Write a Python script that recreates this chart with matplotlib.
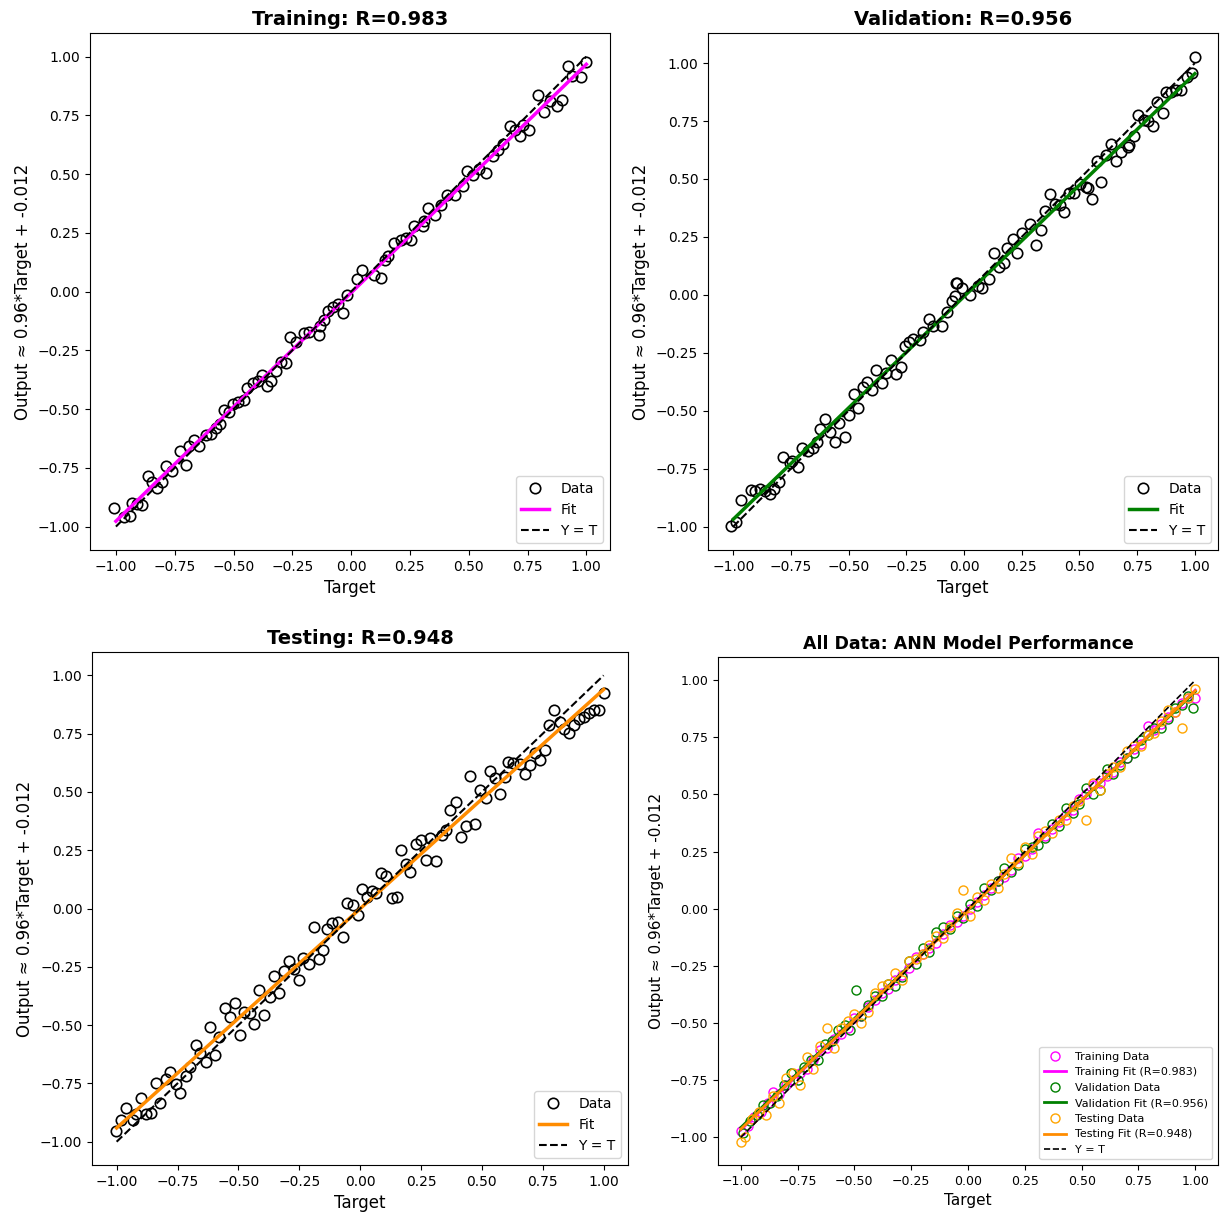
import numpy as np
import matplotlib
matplotlib.use("Agg")
import matplotlib.pyplot as plt

# ---- values (target, output) ----
train_t = [-1.01, -0.965, -0.94, -0.93, -0.91, -0.89, -0.865, -0.845, -0.825, -0.805,
           -0.787, -0.76, -0.726, -0.70, -0.688, -0.667, -0.645, -0.617, -0.596, -0.574,
           -0.556, -0.542, -0.518, -0.503, -0.482, -0.457, -0.443, -0.418, -0.397, -0.38,
           -0.357, -0.34, -0.319, -0.30, -0.277, -0.258, -0.234, -0.199, -0.177, -0.135,
           -0.131, -0.114, -0.097, -0.078, -0.057, -0.035, -0.017,
           0.026, 0.045, 0.099, 0.128, 0.142, 0.156, 0.184, 0.21, 0.234, 0.255,
           0.267, 0.305, 0.312, 0.329, 0.355, 0.383, 0.409, 0.44, 0.475, 0.494,
           0.518, 0.542, 0.574, 0.603, 0.624, 0.645, 0.674, 0.695, 0.716, 0.73,
           0.755, 0.794, 0.82, 0.844, 0.877, 0.897, 0.922, 0.939, 0.976, 1.0]
train_o = [-0.92, -0.96, -0.955, -0.90, -0.905, -0.91, -0.786, -0.81, -0.835, -0.81,
           -0.743, -0.765, -0.68, -0.736, -0.658, -0.63, -0.658, -0.609, -0.604, -0.58,
           -0.562, -0.505, -0.513, -0.477, -0.471, -0.463, -0.41, -0.389, -0.382, -0.353,
           -0.40, -0.382, -0.339, -0.30, -0.303, -0.193, -0.216, -0.176, -0.173, -0.183,
           -0.145, -0.119, -0.084, -0.065, -0.051, -0.091, -0.013,
           0.054, 0.091, 0.072, 0.058, 0.136, 0.15, 0.207, 0.218, 0.228, 0.221,
           0.278, 0.278, 0.30, 0.356, 0.328, 0.37, 0.413, 0.409, 0.448, 0.512,
           0.498, 0.522, 0.505, 0.576, 0.601, 0.626, 0.706, 0.686, 0.661, 0.711,
           0.689, 0.838, 0.763, 0.81, 0.791, 0.817, 0.962, 0.916, 0.914, 0.976]

val_t = [-1.009, -0.987, -0.965, -0.924, -0.904, -0.885, -0.863, -0.841, -0.822, -0.802,
         -0.783, -0.754, -0.747, -0.72, -0.703, -0.674, -0.656, -0.638,
         -0.623, -0.601, -0.579, -0.56, -0.54, -0.517, -0.499, -0.477, -0.459,
         -0.438, -0.419, -0.397, -0.38, -0.357, -0.336, -0.317, -0.296, -0.274,
         -0.255, -0.237, -0.22, -0.193, -0.179, -0.153, -0.135, -0.095, -0.074, -0.051,
         -0.034, -0.041, -0.031, -0.007, 0.025, 0.061, 0.076, 0.109,
         0.13, 0.153, 0.173, 0.185, 0.211, 0.228, 0.25, 0.287, 0.313, 0.333,
         0.352, 0.374, 0.396, 0.415, 0.435,
         0.454, 0.476, 0.502, 0.527, 0.537, 0.556, 0.593, 0.578,
         0.614, 0.636, 0.658, 0.68, 0.709, 0.716, 0.738, 0.755, 0.781, 0.796,
         0.818, 0.837, 0.861, 0.876, 0.895, 0.92, 0.942, 0.964, 0.988, 1.0]
val_o = [-0.997, -0.979, -0.885, -0.842, -0.846, -0.839, -0.846, -0.86, -0.836, -0.807,
         -0.698, -0.724, -0.717, -0.741, -0.66, -0.674, -0.66, -0.635,
         -0.578, -0.535, -0.592, -0.635, -0.552, -0.612, -0.52, -0.43, -0.487,
         -0.397, -0.377, -0.412, -0.326, -0.38, -0.337, -0.283, -0.34, -0.311,
         -0.219, -0.205, -0.191, -0.197, -0.162, -0.105, -0.136, -0.133, -0.076, -0.025,
         0.05, -0.007, 0.053, 0.029, 0.0, 0.039, 0.029, 0.068,
         0.182, 0.119, 0.139, 0.201, 0.239, 0.179, 0.268, 0.305, 0.215, 0.28,
         0.363, 0.434, 0.394, 0.387, 0.358,
         0.44, 0.44, 0.477, 0.466, 0.463, 0.412, 0.487, 0.578,
         0.602, 0.65, 0.578, 0.617, 0.636, 0.645, 0.684, 0.774, 0.755, 0.749,
         0.727, 0.831, 0.784, 0.874, 0.874, 0.882, 0.885, 0.939, 0.957, 1.028]

test_t = [-1.001, -0.981, -0.96, -0.933, -0.919, -0.899, -0.878, -0.857,
          -0.84, -0.821, -0.799, -0.78, -0.758, -0.738, -0.714, -0.7,
          -0.676, -0.656, -0.634, -0.615, -0.598, -0.58, -0.556, -0.536, -0.515, -0.495,
          -0.478, -0.454, -0.437, -0.416, -0.396, -0.372, -0.355, -0.333, -0.314, -0.292,
          -0.273, -0.251, -0.235, -0.21, -0.191, -0.169, -0.153, -0.136, -0.114, -0.091,
          -0.07, -0.054, -0.03, -0.009,
          0.009, 0.028, 0.05, 0.067, 0.087, 0.108, 0.132, 0.151, 0.169, 0.187,
          0.206, 0.228, 0.248, 0.269, 0.288, 0.313, 0.338, 0.354, 0.371, 0.392,
          0.416, 0.433, 0.452, 0.471, 0.491, 0.515, 0.535, 0.553, 0.573, 0.594,
          0.607, 0.628, 0.655, 0.676, 0.696, 0.717, 0.737, 0.758, 0.776, 0.795,
          0.819, 0.836, 0.858, 0.877, 0.899, 0.918, 0.94, 0.959, 0.981, 1.0]
test_o = [-0.952, -0.905, -0.857, -0.909, -0.883, -0.811, -0.88, -0.876,
          -0.747, -0.833, -0.733, -0.70, -0.751, -0.79, -0.718, -0.68,
          -0.585, -0.618, -0.656, -0.508, -0.628, -0.551, -0.427, -0.465, -0.403, -0.542,
          -0.442, -0.446, -0.493, -0.35, -0.456, -0.378, -0.288, -0.364, -0.269, -0.226,
          -0.259, -0.306, -0.212, -0.237, -0.077, -0.216, -0.178, -0.088, -0.063, -0.059,
          -0.123, 0.023, 0.017, -0.026,
          0.084, 0.048, 0.074, 0.065, 0.151, 0.138, 0.046, 0.048, 0.252, 0.192,
          0.156, 0.275, 0.292, 0.209, 0.304, 0.203, 0.314, 0.338, 0.421, 0.457,
          0.306, 0.352, 0.568, 0.364, 0.51, 0.476, 0.59, 0.562, 0.49, 0.564,
          0.629, 0.625, 0.622, 0.576, 0.615, 0.668, 0.636, 0.682, 0.787, 0.851,
          0.801, 0.768, 0.753, 0.787, 0.815, 0.82, 0.837, 0.851, 0.851, 0.926]

# the "All Data" panel shows its own, tighter cloud of points
all_train_t = [-1.00, -0.97, -0.94, -0.91, -0.88, -0.86, -0.83, -0.80, -0.77, -0.74,
               -0.71, -0.68, -0.65, -0.62, -0.59, -0.56, -0.53, -0.50, -0.47, -0.44,
               -0.41, -0.38, -0.35, -0.32, -0.29, -0.26, -0.23, -0.20, -0.17, -0.14,
               -0.11, -0.08, -0.05, -0.02, 0.01, 0.04, 0.07, 0.10, 0.13, 0.16,
               0.19, 0.22, 0.25, 0.28, 0.31, 0.34, 0.37, 0.40, 0.43, 0.46,
               0.49, 0.52, 0.55, 0.58, 0.61, 0.64, 0.67, 0.70, 0.73, 0.76,
               0.79, 0.82, 0.85, 0.88, 0.91, 0.94, 0.97, 1.00]
all_train_o = [-0.97, -0.95, -0.91, -0.89, -0.85, -0.80, -0.81, -0.77, -0.75, -0.72,
               -0.70, -0.66, -0.62, -0.61, -0.57, -0.55, -0.52, -0.48, -0.47, -0.43,
               -0.40, -0.37, -0.35, -0.31, -0.29, -0.26, -0.21, -0.20, -0.17, -0.15,
               -0.11, -0.07, -0.06, -0.03, 0.00, 0.03, 0.06, 0.09, 0.12, 0.14,
               0.17, 0.22, 0.23, 0.26, 0.33, 0.32, 0.35, 0.38, 0.41, 0.43,
               0.48, 0.50, 0.54, 0.55, 0.58, 0.60, 0.64, 0.66, 0.70, 0.72,
               0.80, 0.78, 0.81, 0.84, 0.86, 0.90, 0.92, 0.92]

all_val_t = [-0.99, -0.96, -0.93, -0.90, -0.87, -0.84, -0.81, -0.78, -0.75, -0.72,
             -0.69, -0.66, -0.63, -0.60, -0.57, -0.54, -0.52, -0.495, -0.47, -0.44,
             -0.41, -0.38, -0.35, -0.32, -0.29, -0.26, -0.23, -0.20, -0.17, -0.14,
             -0.11, -0.08, -0.05, -0.02, 0.01, 0.04, 0.07, 0.10, 0.13, 0.16,
             0.19, 0.22, 0.25, 0.28, 0.31, 0.34, 0.37, 0.40, 0.43, 0.46,
             0.49, 0.52, 0.55, 0.58, 0.61, 0.64, 0.67, 0.70, 0.73, 0.76,
             0.79, 0.82, 0.85, 0.88, 0.91, 0.94, 0.97, 0.99]
all_val_o = [-0.98, -0.93, -0.90, -0.86, -0.85, -0.82, -0.77, -0.72, -0.75, -0.69,
             -0.66, -0.66, -0.59, -0.58, -0.53, -0.51, -0.53, -0.357, -0.47, -0.42,
             -0.38, -0.38, -0.33, -0.34, -0.30, -0.23, -0.24, -0.17, -0.19, -0.10,
             -0.08, -0.09, -0.03, -0.04, 0.02, 0.01, 0.09, 0.08, 0.12, 0.18,
             0.16, 0.19, 0.26, 0.27, 0.28, 0.31, 0.37, 0.36, 0.44, 0.42,
             0.46, 0.53, 0.50, 0.52, 0.61, 0.59, 0.63, 0.66, 0.68, 0.74,
             0.76, 0.79, 0.79, 0.83, 0.88, 0.89, 0.93, 0.88]

all_test_t = [-1.00, -0.98, -0.95, -0.92, -0.89, -0.86, -0.83, -0.80, -0.77, -0.74,
              -0.71, -0.68, -0.65, -0.62, -0.59, -0.56, -0.53, -0.50, -0.47, -0.44,
              -0.41, -0.38, -0.35, -0.32, -0.29, -0.26, -0.23, -0.20, -0.17, -0.14,
              -0.11, -0.08, -0.05, -0.02, 0.01, 0.04, 0.07, 0.10, 0.13, 0.16,
              0.19, 0.22, 0.25, 0.28, 0.31, 0.34, 0.37, 0.40, 0.43, 0.46,
              0.49, 0.52, 0.55, 0.58, 0.61, 0.64, 0.67, 0.70, 0.73, 0.76,
              0.79, 0.82, 0.85, 0.88, 0.91, 0.94, 0.97, 1.00]
all_test_o = [-1.02, -1.00, -0.92, -0.89, -0.90, -0.82, -0.85, -0.74, -0.72, -0.77,
              -0.65, -0.70, -0.60, -0.52, -0.61, -0.52, -0.49, -0.46, -0.50, -0.45,
              -0.37, -0.34, -0.33, -0.28, -0.31, -0.23, -0.22, -0.20, -0.16, -0.12,
              -0.13, -0.08, -0.02, 0.08, -0.03, 0.05, 0.04, 0.11, 0.09, 0.15,
              0.22, 0.20, 0.27, 0.24, 0.32, 0.34, 0.33, 0.39, 0.39, 0.45,
              0.47, 0.39, 0.55, 0.52, 0.59, 0.62, 0.62, 0.69, 0.71, 0.71,
              0.76, 0.77, 0.82, 0.87, 0.86, 0.79, 0.92, 0.96]

r_train, r_val, r_test = 0.983, 0.956, 0.948
ylab = "Output \u2248 0.96*Target + -0.012"

fig = plt.figure(figsize=(12.27, 12.17), dpi=100)

def panel(rect, t, o, color, title):
    ax = fig.add_axes(rect)
    t = np.array(t)
    o = np.array(o)
    m, b = np.polyfit(t, o, 1)
    xs = np.array([-1.0, 1.0])
    ax.plot(t, o, 'o', mfc='none', mec='black', ms=7.5, mew=1.2, label='Data')
    ax.plot(xs, m * xs + b, color=color, lw=2.5, label='Fit')
    ax.plot(xs, xs, 'k--', lw=1.5, label='Y = T')
    ax.set_title(title, fontsize=14, fontweight='bold')
    ax.set_xlabel('Target', fontsize=12)
    ax.set_ylabel(ylab, fontsize=12)
    ax.legend(loc='lower right', fontsize=10)
    return ax

panel([0.0733, 0.548, 0.4238, 0.4248], train_t, train_o, 'magenta', f'Training: R={r_train}')
panel([0.577, 0.548, 0.4157, 0.4248], val_t, val_o, 'green', f'Validation: R={r_val}')
panel([0.075, 0.0427, 0.4368, 0.4215], test_t, test_o, 'darkorange', f'Testing: R={r_test}')

# all data panel
ax4 = fig.add_axes([0.5852, 0.0427, 0.4075, 0.4174])
xs = np.array([-1.0, 1.0])
sets = [(all_train_t, all_train_o, 'magenta', 'magenta', 'Training', r_train),
        (all_val_t, all_val_o, 'green', 'green', 'Validation', r_val),
        (all_test_t, all_test_o, 'orange', 'darkorange', 'Testing', r_test)]
for t, o, mc, lc, name, r in sets:
    m, b = np.polyfit(t, o, 1)
    ax4.plot(t, o, 'o', mfc='none', mec=mc, ms=6.5, mew=1.0, label=f'{name} Data')
    ax4.plot(xs, m * xs + b, color=lc, lw=2, label=f'{name} Fit (R={r})')
ax4.plot(xs, xs, 'k--', lw=1.2, label='Y = T')
ax4.set_title('All Data: ANN Model Performance', fontsize=12.5, fontweight='bold')
ax4.set_xlabel('Target', fontsize=11)
ax4.set_ylabel(ylab, fontsize=11)
ax4.tick_params(labelsize=9)
ax4.legend(loc='lower right', fontsize=8)

fig.savefig('out.png', dpi=100)
